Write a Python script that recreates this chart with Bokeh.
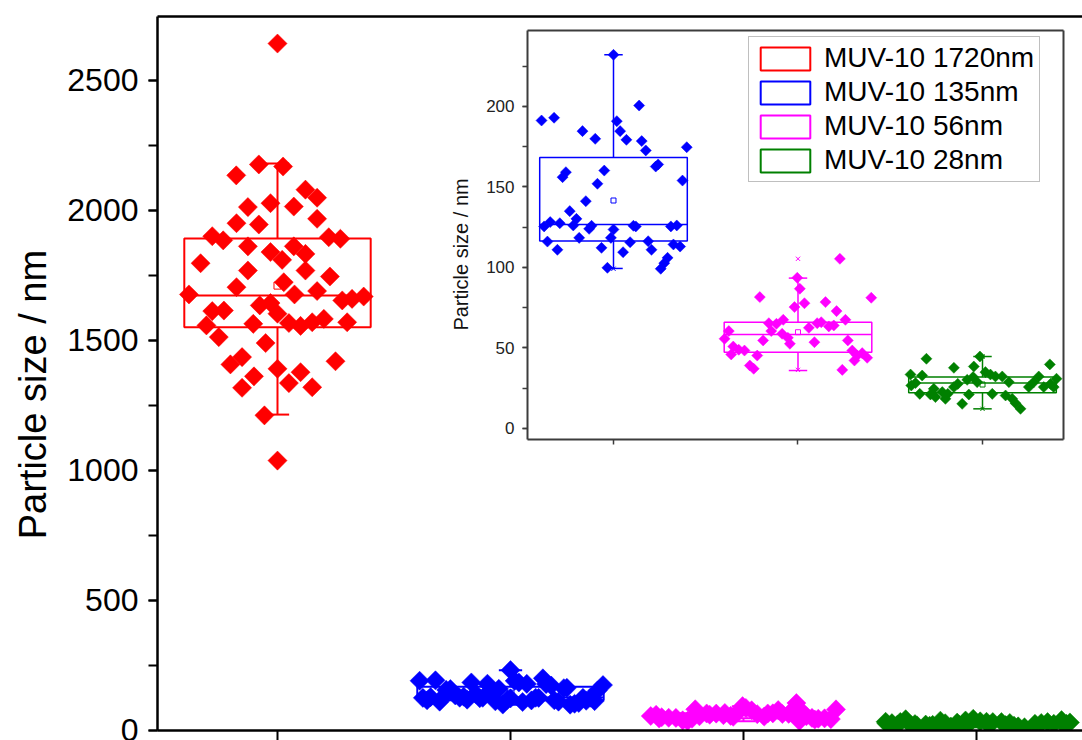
import numpy as np
from bokeh.plotting import figure
from bokeh.models import (Range1d, LinearAxis, FixedTicker, SingleIntervalTicker,
                          Legend, LegendItem, ColumnDataSource)
from bokeh.embed import file_html
from bokeh.resources import INLINE

# ---------------- data ----------------
categories = ["MUV-10 1720nm", "MUV-10 135nm", "MUV-10 56nm", "MUV-10 28nm"]
positions = [1, 2, 3, 4]
colors = ["#ff0000", "#0000ff", "#ff00ff", "#008000"]
y_title = "Particle size / nm"

q1 = [1551, 116.4, 47.4, 22.2]
median = [1673, 126.7, 58.4, 28.2]
q3 = [1892, 168.3, 66.0, 31.9]
whisk_lo = [1215, 99.4, 36.0, 12.2]
whisk_hi = [2181, 232.1, 93.4, 44.7]
means = [1711, 141.6, 59.8, 27.3]

red_vals = [2642, 2135, 2177, 2169, 2080, 2049, 2013, 2028, 2015, 1968, 1951, 1946, 1901, 1885,
            1862, 1897, 1891, 1862, 1840, 1810, 1833, 1797, 1769, 1769, 1746, 1724, 1705, 1677,
            1677, 1690, 1654, 1660, 1669, 1613, 1615, 1635, 1644, 1603, 1567, 1556, 1570, 1583,
            1570, 1558, 1564, 1513, 1490, 1408, 1436, 1391, 1378, 1420, 1362, 1318, 1336, 1320,
            1212, 1038]
red_jitter = [0.0, -0.177, -0.080, 0.024, 0.120, 0.170, -0.127, -0.030, 0.070, 0.170, -0.176,
              -0.080, -0.280, -0.233, -0.127, 0.220, 0.270, 0.070, -0.030, 0.020, 0.120, -0.330,
              -0.127, 0.120, 0.225, 0.027, -0.176, -0.380, 0.073, 0.170, 0.278, 0.320, 0.370,
              -0.280, -0.230, -0.076, -0.030, 0.0, 0.049, 0.099, 0.149, 0.199, 0.299, -0.305,
              -0.104, -0.252, -0.051, -0.202, -0.152, 0.0, 0.099, 0.249, -0.101, -0.152, 0.049,
              0.149, -0.056, 0.0]

blue_vals = [232.1, 200.6, 191.3, 193.0, 190.9, 184.7, 184.7, 179.9, 179.3, 178.5, 172.7, 174.7,
             162.7, 164.0, 159.2, 156.1, 160.2, 152.0, 154.0, 141.2, 135.0, 130.2, 125.5, 128.2,
             127.5, 126.1, 124.0, 125.9, 123.6, 125.9, 125.5, 125.5, 126.1, 116.1, 111.0, 118.4,
             118.4, 112.2, 115.7, 109.5, 116.3, 111.0, 114.3, 113.0, 99.8, 99.2, 102.7, 106.0]
blue_jitter = [0.0, 0.139, -0.390, -0.322, 0.018, 0.036, -0.168, -0.099, 0.070, 0.153, 0.175,
               0.397, 0.229, 0.242, -0.258, -0.276, -0.050, -0.087, 0.374, -0.150, -0.237, -0.201,
               -0.376, -0.343, -0.291, -0.218, -0.132, -0.119, 0.0, 0.108, 0.121, 0.311, 0.343,
               -0.358, -0.304, -0.186, -0.014, -0.065, 0.090, 0.052, 0.188, 0.206, 0.325, 0.361,
               -0.033, 0.256, 0.275, 0.293]

magenta_vals = [105.4, 93.6, 86.8, 81.6, 81.2, 77.8, 75.4, 78.5, 72.9, 67.5, 67.5, 65.0, 65.4,
                60.5, 58.8, 56.3, 52.6, 54.7, 53.6, 62.5, 65.4, 66.0, 63.4, 64.0, 54.7, 60.5,
                55.7, 50.9, 46.0, 48.9, 48.4, 45.3, 39.1, 37.1, 36.4, 48.4, 45.3, 46.8, 43.9, 42.2]
magenta_jitter = [0.227, -0.004, 0.010, -0.207, 0.397, 0.035, -0.019, 0.149, 0.209, 0.257,
                  -0.080, -0.117, -0.158, -0.145, -0.086, -0.055, -0.044, -0.189, 0.089, 0.059,
                  0.104, 0.126, 0.167, 0.194, 0.270, -0.375, -0.398, -0.351, -0.362, -0.321,
                  -0.290, -0.221, -0.261, -0.240, 0.240, 0.294, 0.321, 0.348, 0.375, 0.306]

green_vals = [43.3, 44.7, 37.7, 38.5, 39.8, 33.5, 32.9, 28.2, 21.5, 21.1, 19.5, 22.6, 21.5, 25.7,
              27.7, 18.4, 15.3, 21.1, 30.2, 31.9, 28.8, 35.0, 33.5, 32.3, 32.3, 28.8, 20.5, 18.4,
              15.7, 12.2, 28.8, 32.3, 25.7, 27.7, 30.9, 25.7, 26.7, 24.6, 25.7, 21.5]
green_jitter = [-0.304, -0.014, -0.155, -0.047, 0.365, -0.390, -0.327, -0.363, -0.340, -0.282,
                -0.255, -0.218, -0.188, -0.155, -0.134, -0.201, -0.110, -0.074, -0.083, -0.051,
                -0.029, 0.016, 0.043, 0.070, 0.107, 0.143, 0.125, 0.161, 0.179, 0.206, 0.278,
                0.305, 0.332, 0.369, 0.401, 0.386, -0.386, -0.264, 0.251, 0.053]

groups = [(red_vals, red_jitter), (blue_vals, blue_jitter),
          (magenta_vals, magenta_jitter), (green_vals, green_jitter)]

# ---------------- styling constants ----------------
FONT = "Liberation Sans"
BOX_W = 0.8
CAP = 0.05

p = figure(width=1082, height=740, output_backend="svg", toolbar_location=None,
           x_range=Range1d(0.485, 4.455), y_range=Range1d(0, 2746),
           x_axis_location=None, y_axis_location=None,
           min_border_left=157, min_border_right=0, min_border_top=16, min_border_bottom=10)
p.outline_line_color = None
p.grid.visible = False
p.background_fill_color = "white"
p.border_fill_color = "white"

# inset coordinate system (categories 2..4) mapped over the same frame
p.extra_x_ranges = {"ix": Range1d(-0.4715, 4.542)}
p.extra_y_ranges = {"iy": Range1d(-187.6, 255.9)}
IX0, IX1 = 1.534, 4.439
IY0, IY1 = -6.8, 247.2

# ---------------- main axes ----------------
# (non-breaking spaces only nudge the rotated title downwards, as in the original)
yax = LinearAxis(ticker=SingleIntervalTicker(interval=500, num_minor_ticks=2),
                 axis_label=y_title + "\u00a0" * 4)
p.add_layout(yax, "left")
xax = LinearAxis(ticker=FixedTicker(ticks=positions))
p.add_layout(xax, "below")
tax = LinearAxis(ticker=FixedTicker(ticks=[]))
p.add_layout(tax, "above")

for ax in (yax, xax, tax):
    ax.axis_line_color = "black"
    ax.axis_line_width = 2.5
    ax.major_tick_line_color = "black"
    ax.major_tick_line_width = 2
    ax.minor_tick_line_color = "black"
    ax.minor_tick_line_width = 2
    ax.major_tick_in = 0
    ax.minor_tick_in = 0
    ax.major_label_text_font = FONT
    ax.axis_label_text_font = FONT
    ax.axis_label_text_font_style = "normal"
    ax.major_label_text_color = "black"
    ax.axis_label_text_color = "black"

yax.major_tick_out = 9
yax.minor_tick_out = 9
yax.major_label_text_font_size = "32px"
yax.major_label_standoff = 10
yax.axis_label_text_font_size = "38px"
yax.axis_label_standoff = 10

xax.major_tick_out = 10
xax.minor_tick_out = 0
xax.major_label_text_color = None
xax.major_label_standoff = 0

tax.major_tick_out = 0
tax.minor_tick_out = 0
tax.major_label_text_color = None
tax.major_label_standoff = 0

# ---------------- inset axes ----------------
IC = "#3c3c3c"
ileft = LinearAxis(x_range_name="ix", y_range_name="iy", fixed_location=IX0, bounds=(IY0, IY1),
                   ticker=SingleIntervalTicker(interval=50, num_minor_ticks=2),
                   axis_label=y_title + "\u00a0" * 7)
ibot = LinearAxis(x_range_name="ix", y_range_name="iy", fixed_location=IY0, bounds=(IX0, IX1),
                  ticker=FixedTicker(ticks=positions[1:]))
itop = LinearAxis(x_range_name="ix", y_range_name="iy", fixed_location=IY1, bounds=(IX0, IX1),
                  ticker=FixedTicker(ticks=[]))
iright = LinearAxis(x_range_name="ix", y_range_name="iy", fixed_location=IX1, bounds=(IY0, IY1),
                    ticker=FixedTicker(ticks=[]))
p.add_layout(ileft, "left")
p.add_layout(ibot, "below")
p.add_layout(itop, "above")
p.add_layout(iright, "right")
for ax in (ileft, ibot, itop, iright):
    ax.axis_line_color = IC
    ax.axis_line_width = 2
    ax.major_tick_line_color = IC
    ax.minor_tick_line_color = IC
    ax.major_tick_line_width = 1.5
    ax.minor_tick_line_width = 1.5
    ax.major_tick_in = 0
    ax.minor_tick_in = 0
    ax.major_tick_out = 5
    ax.minor_tick_out = 5
    ax.major_label_text_font = FONT
    ax.axis_label_text_font = FONT
    ax.axis_label_text_font_style = "normal"
    ax.major_label_text_color = "#222222"
    ax.axis_label_text_color = "#111111"
ileft.major_label_text_font_size = "17px"
ileft.major_label_standoff = 8
ileft.axis_label_text_font_size = "20px"
ileft.axis_label_standoff = 11
ibot.minor_tick_out = 0
ibot.major_label_text_color = None
for ax in (itop, iright):
    ax.major_tick_out = 0
    ax.minor_tick_out = 0
    ax.major_label_text_color = None


# ---------------- glyphs ----------------
def draw(idx_list, size, mean_size, lw, inset):
    kw = dict(x_range_name="ix", y_range_name="iy") if inset else {}
    for i in idx_list:
        vals, jit = groups[i]
        xs = [positions[i] + j for j in jit]
        p.scatter(xs, vals, marker="square", angle=np.pi / 4, size=size,
                  fill_color=colors[i], line_color=colors[i], line_width=0.5, **kw)
    src = ColumnDataSource(dict(
        x=[positions[i] for i in idx_list],
        xl=[positions[i] - BOX_W / 2 for i in idx_list],
        xr=[positions[i] + BOX_W / 2 for i in idx_list],
        cl=[positions[i] - CAP for i in idx_list],
        cr=[positions[i] + CAP for i in idx_list],
        q1=[q1[i] for i in idx_list], q3=[q3[i] for i in idx_list],
        med=[median[i] for i in idx_list], lo=[whisk_lo[i] for i in idx_list],
        hi=[whisk_hi[i] for i in idx_list], mean=[means[i] for i in idx_list],
        color=[colors[i] for i in idx_list]))
    box = p.vbar(x="x", width=BOX_W, bottom="q1", top="q3", source=src, fill_color="white",
                 fill_alpha=0, line_color="color", line_width=lw, **kw)
    p.segment(x0="xl", x1="xr", y0="med", y1="med", source=src, line_color="color", line_width=lw, **kw)
    p.segment(x0="x", x1="x", y0="q3", y1="hi", source=src, line_color="color", line_width=lw, **kw)
    p.segment(x0="x", x1="x", y0="q1", y1="lo", source=src, line_color="color", line_width=lw, **kw)
    p.segment(x0="cl", x1="cr", y0="hi", y1="hi", source=src, line_color="color", line_width=lw, **kw)
    p.segment(x0="cl", x1="cr", y0="lo", y1="lo", source=src, line_color="color", line_width=lw, **kw)
    p.scatter(x="x", y="mean", source=src, marker="square", size=mean_size, fill_color=None,
              line_color="color", line_width=1, **kw)
    return box


main_box = draw([0, 1, 2, 3], size=13.5, mean_size=7, lw=2, inset=False)
draw([1, 2, 3], size=7.8, mean_size=5, lw=1.5, inset=True)

# min / max markers of the inset groups
mm_x = [positions[i] for i in (1, 2, 3)] * 2
mm_y = [max(groups[i][0]) for i in (1, 2, 3)] + [min(groups[i][0]) for i in (1, 2, 3)]
mm_c = [colors[i] for i in (1, 2, 3)] * 2
p.scatter(mm_x, mm_y, marker="x", size=6, line_color=mm_c, line_width=1,
          x_range_name="ix", y_range_name="iy")

# ---------------- legend ----------------
items = [LegendItem(label=categories[i], renderers=[main_box], index=i) for i in range(4)]
legend = Legend(items=items, location=(591, 548), orientation="vertical",
                glyph_width=62, glyph_height=29, spacing=2, padding=5, margin=0,
                label_standoff=8, label_text_font=FONT, label_text_font_size="28px",
                label_height=29,
                label_text_color="black", border_line_color="#808080", border_line_width=1,
                background_fill_color="white", background_fill_alpha=1.0)
p.add_layout(legend, "center")

open("out.html", "w").write(file_html(p, INLINE))
